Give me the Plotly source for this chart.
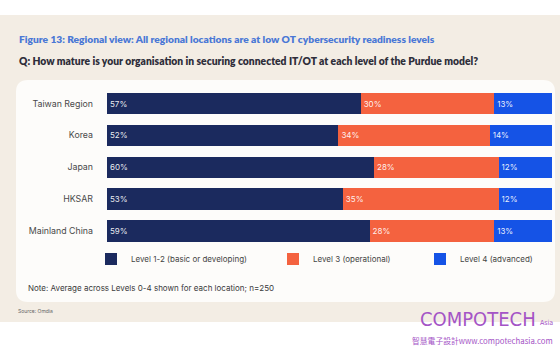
import plotly.graph_objects as go

W, H = 560, 350

locations = ["Taiwan Region", "Korea", "Japan", "HKSAR", "Mainland China"]
level12 = [57, 52, 60, 53, 59]
level3 = [30, 34, 28, 35, 28]
level4 = [13, 14, 12, 12, 13]
series_names = ["Level 1-2 (basic or developing)", "Level 3 (operational)", "Level 4 (advanced)"]
series_colors = ["#1b2a5e", "#f4623f", "#1553e6"]

title_text = "Figure 13: Regional view: All regional locations are at low OT cybersecurity readiness levels"
subtitle_text = "Q: How mature is your organisation in securing connected IT/OT at each level of the Purdue model?"
note_text = "Note: Average across Levels 0-4 shown for each location; n=250"
source_text = "Source: Omdia"

FONT = "Inter, Roboto, sans-serif"
BOLD_FONT = "Lato, 'Open Sans', sans-serif"
WM_FONT = "'DejaVu Sans Condensed', 'Liberation Sans Narrow', sans-serif"

def px(x):
    return x / W

def py(y):
    return 1 - y / H

fig = go.Figure()
legend_keys = ["legend", "legend2", "legend3"]
for vals, name, color, lg in zip([level12, level3, level4], series_names, series_colors, legend_keys):
    fig.add_trace(go.Bar(
        y=locations, x=vals, name=name, orientation="h",
        marker=dict(color=color, line=dict(width=0)),
        text=[f"{v}%" for v in vals], textposition="inside",
        insidetextanchor="start", constraintext="none",
        textfont=dict(color="rgba(255,255,255,0.92)", size=8, family=FONT),
        hoverinfo="skip", legend=lg,
    ))

# Background and panel shapes
r_x, r_y = 12 / W, 12 / H
x0, x1, y0, y1 = px(16), px(555), py(302), py(80)
panel_path = (
    f"M{x0 + r_x},{y0} L{x1 - r_x},{y0} Q{x1},{y0} {x1},{y0 + r_y} "
    f"L{x1},{y1 - r_y} Q{x1},{y1} {x1 - r_x},{y1} L{x0 + r_x},{y1} "
    f"Q{x0},{y1} {x0},{y1 - r_y} L{x0},{y0 + r_y} Q{x0},{y0} {x0 + r_x},{y0} Z"
)
shapes = [
    dict(type="rect", xref="paper", yref="paper", x0=0, x1=1, y0=py(322), y1=py(15),
         fillcolor="#f3ede4", line=dict(width=0), layer="below"),
    dict(type="path", xref="paper", yref="paper", path=panel_path,
         fillcolor="#fdfcfa", line=dict(width=0), layer="below"),
]

annotations = [
    dict(text=title_text, x=px(17), y=py(39), xref="paper", yref="paper",
         xanchor="left", yanchor="middle", showarrow=False,
         font=dict(size=10.2, color="#4a78d6", family=BOLD_FONT, weight=800)),
    dict(text=subtitle_text, x=px(17), y=py(61), xref="paper", yref="paper",
         xanchor="left", yanchor="middle", showarrow=False,
         font=dict(size=10.3, color="#2e2e3a", family=BOLD_FONT, weight=800)),
    dict(text=note_text, x=px(26), y=py(288), xref="paper", yref="paper",
         xanchor="left", yanchor="middle", showarrow=False,
         font=dict(size=8, color="#3a3a3a", family=FONT)),
    dict(text=source_text, x=px(16), y=py(311), xref="paper", yref="paper",
         xanchor="left", yanchor="middle", showarrow=False,
         font=dict(size=5, color="#666666", family=FONT)),
    dict(text="COMPOTECH", x=px(418), y=py(319), xref="paper", yref="paper",
         xanchor="left", yanchor="middle", showarrow=False,
         font=dict(size=20, color="#a454c6", family=WM_FONT)),
    dict(text="Asia", x=px(555), y=py(323), xref="paper", yref="paper",
         xanchor="right", yanchor="middle", showarrow=False,
         font=dict(size=7, color="#a454c6", family=WM_FONT)),
    dict(text="智慧電子設計www.compotechasia.com", x=px(555), y=py(340), xref="paper", yref="paper",
         xanchor="right", yanchor="middle", showarrow=False,
         font=dict(size=7.8, color="#a454c6", family="'Noto Sans CJK TC', sans-serif")),
]

legend_common = dict(orientation="h", yanchor="middle", xanchor="left",
                     bgcolor="rgba(0,0,0,0)", font=dict(size=8, color="#444444", family=FONT),
                     tracegroupgap=0, itemclick=False, itemdoubleclick=False)
legend_text_x = [131, 313, 460]

fig.update_layout(
    width=W, height=H,
    margin=dict(l=0, r=0, t=0, b=0),
    paper_bgcolor="#ffffff", plot_bgcolor="rgba(0,0,0,0)",
    barmode="stack", bargap=0.325,
    xaxis=dict(domain=[px(107), px(552)], range=[0, 100], visible=False, fixedrange=True),
    yaxis=dict(domain=[py(246.9), py(87.6)], autorange="reversed",
               showgrid=False, showline=False, ticks="", ticklabelstandoff=13,
               tickfont=dict(size=8.8, color="#4a4a4a", family=FONT), fixedrange=True),
    shapes=shapes, annotations=annotations,
    legend=dict(x=px(legend_text_x[0] - 40), y=py(259), **legend_common),
    legend2=dict(x=px(legend_text_x[1] - 40), y=py(259), **legend_common),
    legend3=dict(x=px(legend_text_x[2] - 40), y=py(259), **legend_common),
    showlegend=True,
)

fig.write_html("out.html", config={"displayModeBar": False})
